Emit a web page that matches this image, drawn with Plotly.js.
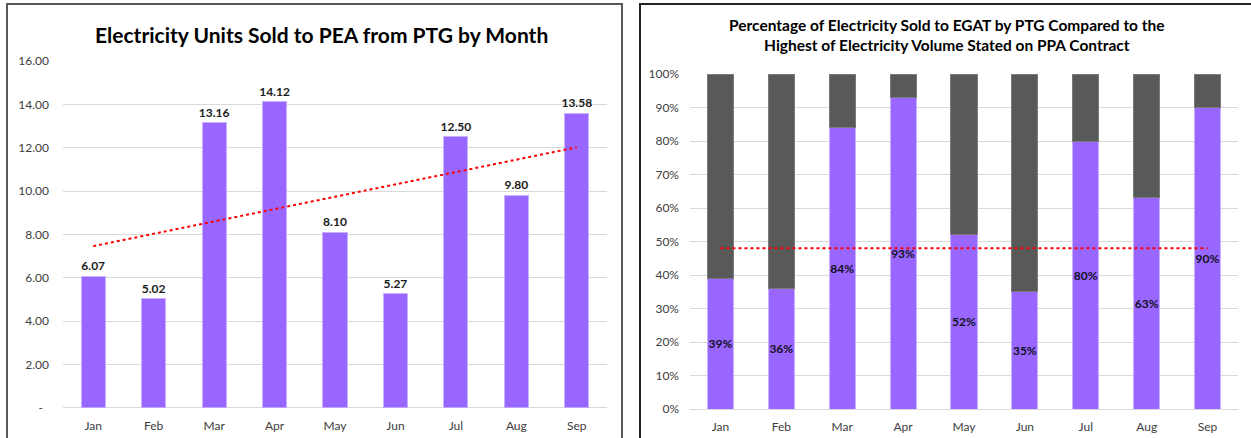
<!DOCTYPE html>
<html>
<head>
<meta charset="utf-8">
<script src="https://cdn.plot.ly/plotly-3.0.1.min.js"></script>
<style>html,body{margin:0;padding:0;background:#fff;}#chart{width:1251px;height:438px;}</style>
</head>
<body>
<div id="chart"></div>
<script>
const months = ["Jan","Feb","Mar","Apr","May","Jun","Jul","Aug","Sep"];
const unitsSold = [6.07,5.02,13.16,14.12,8.10,5.27,12.50,9.80,13.58];
const unitsTickVals = [0,2,4,6,8,10,12,14,16];
const unitsTickText = ["-\u00a0\u00a0","2.00","4.00","6.00","8.00","10.00","12.00","14.00","16.00"];
const pctSold = [39,36,84,93,52,35,80,63,90];
const pctRemain = pctSold.map(v => 100 - v);
const pctLine = [48,48,48,48,48,48,48,48,48];
const pctTickVals = [0,10,20,30,40,50,60,70,80,90,100];
const pctTickText = pctTickVals.map(v => v + "%");
const title1 = "Electricity Units Sold to PEA from PTG by Month";
const title2 = "Percentage of Electricity Sold to EGAT by PTG Compared to the<br>Highest of Electricity Volume Stated on PPA Contract";

// linear trendline (least squares) of unitsSold, as Excel's trendline
const n = unitsSold.length;
const xs = unitsSold.map((_, i) => i + 1);
const mx = xs.reduce((a,b)=>a+b,0)/n;
const my = unitsSold.reduce((a,b)=>a+b,0)/n;
let sxy = 0, sxx = 0;
for (let i=0;i<n;i++){ sxy += (xs[i]-mx)*(unitsSold[i]-my); sxx += (xs[i]-mx)**2; }
const slope = sxy/sxx, icpt = my - slope*mx;
const trend = xs.map(x => icpt + slope*x);

const W = 1251, H = 438;
const FONT = "Lato, 'Open Sans', sans-serif";
const purple = "#9966FF";
const gray = "#595959";

const traces = [
  {type:"bar", x:months, y:unitsSold, xaxis:"x", yaxis:"y", width:0.4,
   marker:{color:purple, line:{color:"#c7b0ff", width:1}},
   text:unitsSold.map(v=>v.toFixed(2)), textposition:"outside", cliponaxis:false, constraintext:"none",
   textfont:{family:FONT, size:12, color:"#1a1a1a", weight:"bold"}, hoverinfo:"skip"},
  {type:"scatter", mode:"lines", x:months, y:trend, xaxis:"x", yaxis:"y",
   line:{color:"#FF0000", width:2, dash:"dot"}, hoverinfo:"skip"},
  {type:"bar", x:months, y:pctSold, xaxis:"x2", yaxis:"y2", width:0.43,
   marker:{color:purple, line:{color:"#c7b0ff", width:1}},
   text:pctSold.map(v=>v+"%"), textposition:"inside", insidetextanchor:"middle", constraintext:"none",
   textfont:{family:FONT, size:12, color:"#111122", weight:"bold"}, textangle:0, hoverinfo:"skip"},
  {type:"bar", x:months, y:pctRemain, xaxis:"x2", yaxis:"y2", width:0.43,
   marker:{color:gray, line:{color:"#7a7a7a", width:1}}, hoverinfo:"skip"},
  {type:"scatter", mode:"lines", x:months, y:pctLine, xaxis:"x2", yaxis:"y2",
   line:{color:"#FF0000", width:2, dash:"dot"}, hoverinfo:"skip"}
];

const tickFont = {family:FONT, size:12, color:"#404040"};
const layout = {
  width:W, height:H, margin:{l:0,r:0,t:0,b:0}, showlegend:false,
  paper_bgcolor:"#fff", plot_bgcolor:"#fff", barmode:"stack",
  xaxis:{domain:[63/W, 607/W], anchor:"y", tickfont:tickFont, showgrid:false, ticks:"", ticklabelstandoff:9},
  yaxis:{domain:[(H-407.7)/H, (H-61)/H], anchor:"x", range:[0,16], tickvals:unitsTickVals, ticktext:unitsTickText,
         tickfont:tickFont, gridcolor:"#d9d9d9", gridwidth:1, zeroline:true, zerolinecolor:"#d9d9d9", zerolinewidth:1, ticks:"", ticklabelstandoff:13},
  xaxis2:{domain:[690/W, 1238/W], anchor:"y2", tickfont:tickFont, showgrid:false, ticks:"", ticklabelstandoff:9},
  yaxis2:{domain:[(H-409)/H, (H-74)/H], anchor:"x2", range:[0,100], tickvals:pctTickVals, ticktext:pctTickText,
          tickfont:tickFont, gridcolor:"#d9d9d9", gridwidth:1, zeroline:true, zerolinecolor:"#d9d9d9", zerolinewidth:1, ticks:"", ticklabelstandoff:10},
  annotations:[
    {xref:"paper", yref:"paper", x:321/W, y:(H-34)/H, text:"<b>"+title1+"</b>", showarrow:false,
     font:{family:FONT, size:21, color:"#000"}, xanchor:"center", yanchor:"middle"},
    {xref:"paper", yref:"paper", x:947/W, y:(H-35)/H, text:"<b>"+title2+"</b>", showarrow:false,
     font:{family:FONT, size:15.5, color:"#000"}, xanchor:"center", yanchor:"middle", align:"center"}
  ],
  shapes:[
    {type:"rect", xref:"paper", yref:"paper", x0:7/W, x1:622/W, y0:-0.02, y1:(H-4)/H, line:{color:"#595959", width:2}},
    {type:"rect", xref:"paper", yref:"paper", x0:640/W, x1:1.02, y0:-0.02, y1:(H-4)/H, line:{color:"#222", width:2}}
  ]
};
Plotly.newPlot("chart", traces, layout, {staticPlot:true, displayModeBar:false});
</script>
</body>
</html>
